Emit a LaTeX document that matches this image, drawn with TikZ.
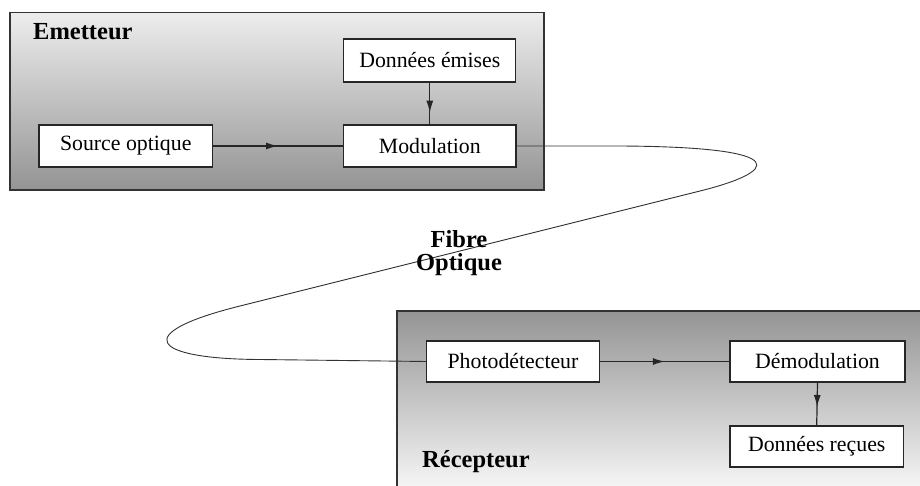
\documentclass[tikz,border=0pt]{standalone}
\usepackage{fontspec}
\setmainfont{Liberation Serif}
\usetikzlibrary{arrows.meta,decorations.markings}
\definecolor{emtop}{gray}{0.93}
\definecolor{embot}{gray}{0.58}
\definecolor{retop}{gray}{0.58}
\definecolor{rebot}{gray}{1.0}
\begin{document}
\begin{tikzpicture}[x=1pt,y=-1pt,
  block/.style={draw=black!85, line width=1.2pt, fill=white, inner sep=0pt,
                font=\fontsize{21.8}{24}\selectfont},
  group/.style={draw=black!80, line width=1.5pt},
  title/.style={font=\fontsize{24.5}{23.5}\selectfont\bfseries, inner sep=0pt},
  link/.style={line width=1.2pt, draw=black!85},
  midarrow/.style={postaction={decorate}, decoration={markings,
      mark=at position #1 with {\arrow{Latex[length=12pt,width=7pt]}}}},
  fibre/.style={line width=0.9pt, draw=black!80}]

\clip (0,0) rectangle (920,486);

% Emitter and receiver panels
\shade[top color=emtop, bottom color=embot] (10,12.5) rectangle (544,190);
\draw[group] (10,12.5) rectangle (544,190);
\shade[top color=retop, bottom color=rebot] (397,311) rectangle (940,505);
\draw[group] (397,311) rectangle (940,505);

% Fibre between the two panels (drawn before the blocks)
\coordinate (f0) at (620,146);
\coordinate (f1) at (700,191);
\coordinate (f2) at (240,306);
\coordinate (f3) at (260,359.5);
\coordinate (modE) at (516,146);
\coordinate (phoW) at (426.4,361.5);
\draw[fibre] (modE) -- (f0) .. controls (800,147) and (775,172.4) .. (f1)
  -- (f2) .. controls (130,333.3) and (150,359) .. (f3) -- (phoW);

% Emitter blocks
\node[block, minimum width=172pt, minimum height=43pt] (donem) at (429.8,60.5) {Données émises};
\node[block, minimum width=173.5pt, minimum height=42pt] (source) at (125.75,146) {Source optique};
\node[block, minimum width=172.4pt, minimum height=42pt] (modul) at (429.8,146) {Modulation};

% Receiver blocks
\node[block, minimum width=173.2pt, minimum height=41pt] (photo) at (513,361.5) {Photodétecteur};
\node[block, minimum width=175pt, minimum height=41pt] (demod) at (817.5,361.5) {Démodulation};
\node[block, minimum width=173.4pt, minimum height=41pt] (donrec) at (816.7,446.5) {Données reçues};

% Connectors
\draw[link, midarrow=0.5] (source.east) -- (modul.west);
\draw[link, midarrow=0.72] (donem.south) -- (modul.north);
\draw[link, midarrow=0.5] (photo.east) -- (demod.west);
\draw[link, midarrow=0.57] (demod.south) -- (donrec.north);

% Labels
\node[title, anchor=base west] (emlabel) at (33,40) {Emetteur};
\node[title, anchor=base west] (relabel) at (422,467) {Récepteur};
\node[title, align=center] (fiblabel) at (459,253) {Fibre\\Optique};
\end{tikzpicture}
\end{document}
